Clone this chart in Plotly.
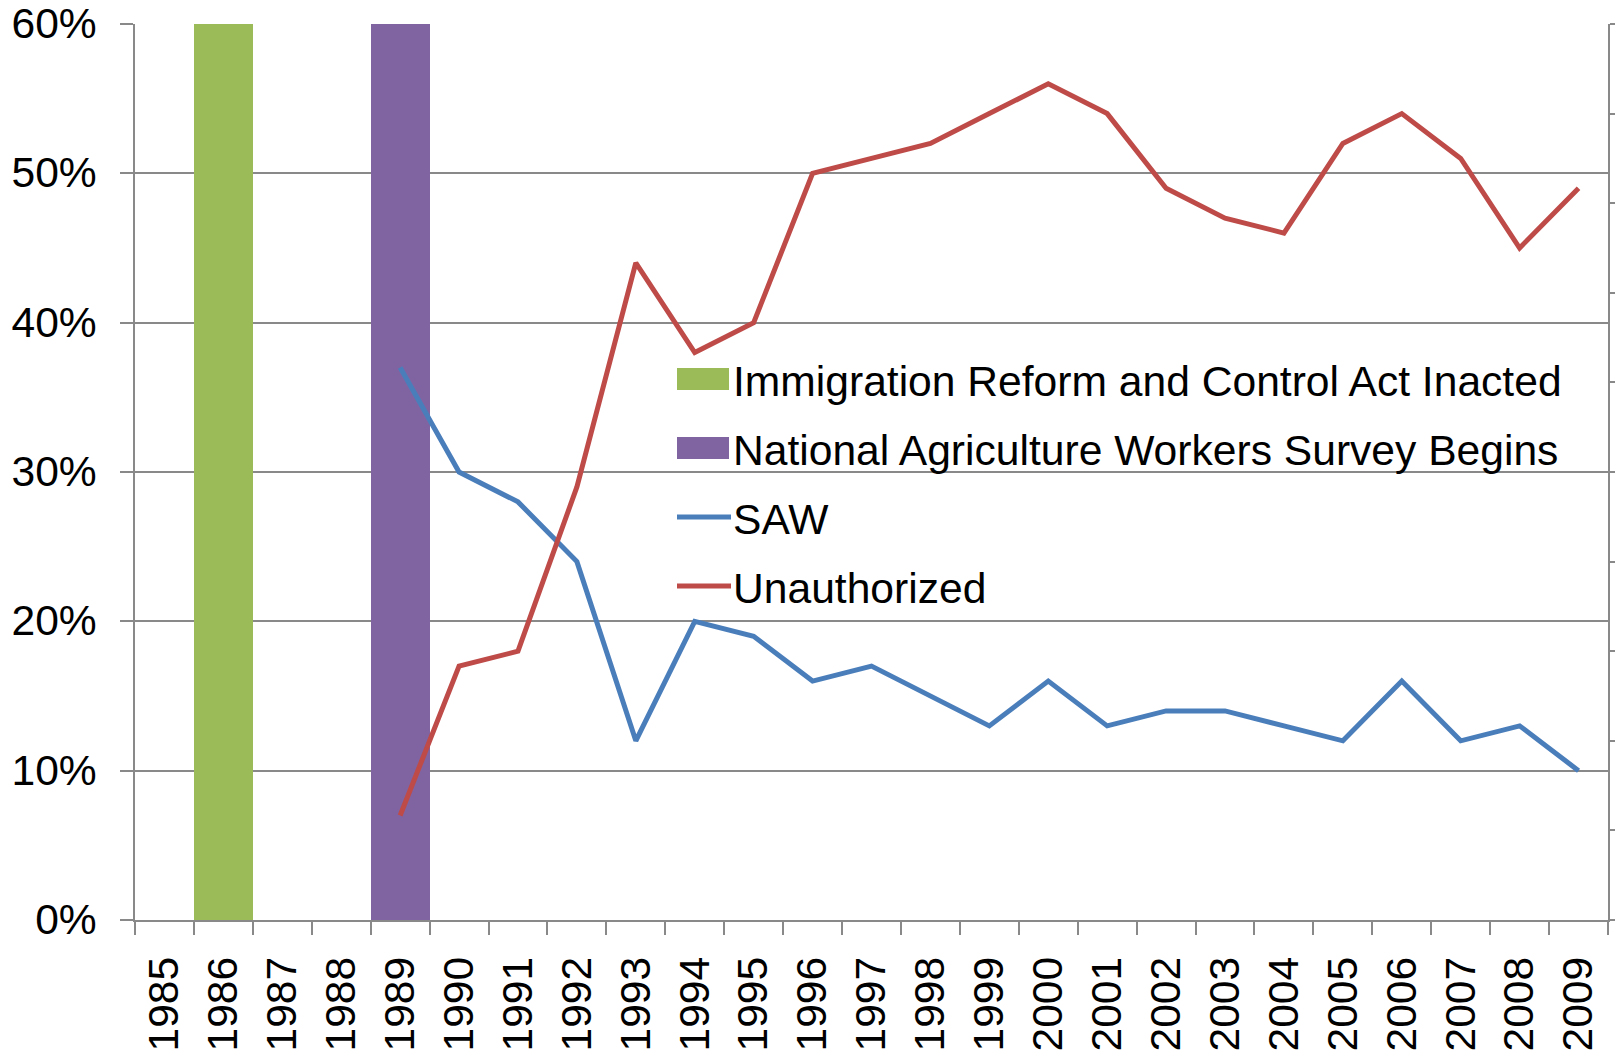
import plotly.graph_objects as go

years = [str(y) for y in range(1985, 2010)]
line_years = [str(y) for y in range(1989, 2010)]

irca_year = ["1986"]
irca_value = [60]
naws_year = ["1989"]
naws_value = [60]

saw = [37, 30, 28, 24, 12, 20, 19, 16, 17, 15, 13, 16, 13, 14, 14, 13, 12, 16, 12, 13, 10]
unauthorized = [7, 17, 18, 29, 44, 38, 40, 50, 51, 52, 54, 56, 54, 49, 47, 46, 52, 54, 51, 45, 49]

legend_labels = [
    "Immigration Reform and Control Act Inacted",
    "National Agriculture Workers Survey Begins",
    "SAW",
    "Unauthorized",
]

GREEN = "#9BBB59"
PURPLE = "#8064A2"
BLUE = "#4A7EBB"
RED = "#BE4B48"
GRID = "#898989"
FONT = "Liberation Sans, Arial, sans-serif"
FS = 42.6

W, H = 1623, 1052
OFF = 8  # page body margin offset
L, R, T, B = 135 - OFF, 1608 - OFF, 24 - OFF, 920 - OFF

fig = go.Figure()
fig.add_trace(go.Bar(x=irca_year, y=irca_value, marker=dict(color=GREEN, line=dict(width=0)),
                     name=legend_labels[0], showlegend=False))
fig.add_trace(go.Bar(x=naws_year, y=naws_value, marker=dict(color=PURPLE, line=dict(width=0)),
                     name=legend_labels[1], showlegend=False))
fig.add_trace(go.Scatter(x=line_years, y=saw, mode="lines", line=dict(color=BLUE, width=5),
                         name=legend_labels[2], showlegend=False))
fig.add_trace(go.Scatter(x=line_years, y=unauthorized, mode="lines", line=dict(color=RED, width=5),
                         name=legend_labels[3], showlegend=False))
# empty trace to anchor the unlabeled secondary axis
fig.add_trace(go.Scatter(x=[], y=[], yaxis="y2", showlegend=False, hoverinfo="skip"))


def px_x(px):
    return (px - OFF - L) / (R - L)


def px_y(py):
    return (B - (py - OFF)) / (B - T)


shapes = []
annotations = []
rows = [379, 448, 517, 586]
colors = [GREEN, PURPLE, BLUE, RED]
for i, (cy, col, lab) in enumerate(zip(rows, colors, legend_labels)):
    if i < 2:
        shapes.append(dict(type="rect", xref="paper", yref="paper",
                           x0=px_x(677), x1=px_x(729), y0=px_y(cy + 11), y1=px_y(cy - 11),
                           fillcolor=col, line=dict(width=0), layer="above"))
    else:
        shapes.append(dict(type="line", xref="paper", yref="paper",
                           x0=px_x(677), x1=px_x(731), y0=px_y(cy), y1=px_y(cy),
                           line=dict(color=col, width=5), layer="above"))
    annotations.append(dict(text=lab, xref="paper", yref="paper", x=px_x(731), y=px_y(cy + 2),
                            xanchor="left", yanchor="middle", showarrow=False,
                            font=dict(family=FONT, size=FS, color="black")))

fig.update_layout(
    width=W, height=H,
    margin=dict(l=L, r=W - R, t=T, b=H - B, pad=0, autoexpand=False),
    paper_bgcolor="white", plot_bgcolor="white",
    barmode="overlay", bargap=0,
    showlegend=False,
    font=dict(family=FONT, size=FS, color="black"),
    shapes=shapes, annotations=annotations,
    xaxis=dict(type="category", categoryorder="array", categoryarray=years,
               range=[-0.5, 24.5], tickangle=-90, tickson="boundaries", automargin=False,
               ticks="outside", ticklen=13, tickcolor=GRID, tickwidth=1.5,
               showline=True, linecolor=GRID, linewidth=1.5, showgrid=False,
               ticklabeloverflow="allow",
               tickfont=dict(family=FONT, size=FS, color="black"), ticklabelstandoff=18),
    yaxis=dict(range=[0, 60], dtick=10, ticksuffix="%", ticks="outside", ticklen=13,
               automargin=False, ticklabeloverflow="allow", ticklabelshift=-1,
               tickcolor=GRID, tickwidth=1.5, showline=True, linecolor=GRID, linewidth=1.5,
               showgrid=True, gridcolor=GRID, gridwidth=1.5, zeroline=False,
               tickfont=dict(family=FONT, size=FS, color="black"), ticklabelstandoff=15),
    yaxis2=dict(overlaying="y", side="right", range=[0, 1], dtick=0.1, showticklabels=False,
                automargin=False,
                ticks="outside", ticklen=14, tickcolor=GRID, tickwidth=1.5,
                showline=True, linecolor=GRID, linewidth=1.5, showgrid=False, zeroline=False),
)

fig.write_html("out.html")
